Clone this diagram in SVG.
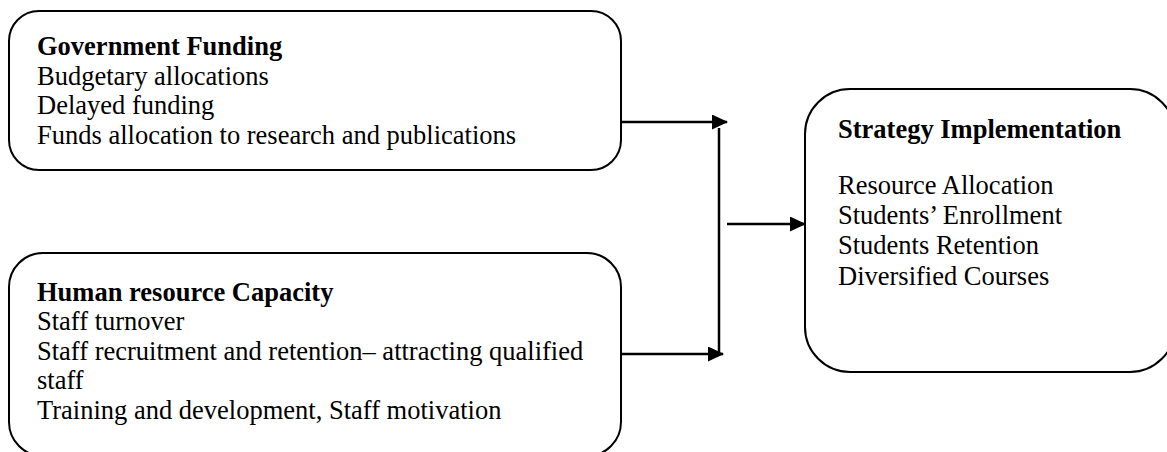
<svg xmlns="http://www.w3.org/2000/svg" width="1167" height="452" viewBox="0 0 1167 452">
<defs>
<style>
.box{fill:#fff;stroke:#000;stroke-width:2}
.t{font-family:"Liberation Serif","Times New Roman",serif;font-size:26.5px;fill:#000}
.b{font-weight:bold}
.ln{stroke:#000;stroke-width:2.5;fill:none}
</style>
<marker id="ah" markerWidth="16" markerHeight="15" refX="15" refY="7.5" orient="auto" markerUnits="userSpaceOnUse">
<path d="M0,0 L16,7.5 L0,15 Z" fill="#000"/>
</marker>
</defs>
<rect width="1167" height="452" fill="#fff"/>
<g id="gov">
<rect class="box" x="9" y="11" width="612" height="159" rx="30" ry="30"/>
<text class="t b" x="37" y="55">Government Funding</text>
<text class="t" x="37" y="85">Budgetary allocations</text>
<text class="t" x="37" y="114">Delayed funding</text>
<text class="t" x="37" y="144">Funds allocation to research and publications</text>
</g>
<g id="hr">
<rect class="box" x="9" y="253" width="612" height="203" rx="34" ry="34"/>
<text class="t b" x="37" y="301">Human resource Capacity</text>
<text class="t" x="37" y="330">Staff turnover</text>
<text class="t" x="37" y="360">Staff recruitment and retention– attracting qualified</text>
<text class="t" x="37" y="389">staff</text>
<text class="t" x="37" y="419">Training and development, Staff motivation</text>
</g>
<g id="strategy">
<rect class="box" x="805" y="89" width="370" height="283" rx="45" ry="45"/>
<text class="t b" x="838" y="138">Strategy Implementation</text>
<text class="t" x="838" y="194">Resource Allocation</text>
<text class="t" x="838" y="224">Students’ Enrollment</text>
<text class="t" x="838" y="254">Students Retention</text>
<text class="t" x="838" y="285">Diversified Courses</text>
</g>
<g id="connectors">
<line class="ln" x1="621" y1="122" x2="727" y2="122" marker-end="url(#ah)"/>
<line class="ln" x1="621" y1="354" x2="723" y2="354" marker-end="url(#ah)"/>
<line class="ln" x1="719" y1="128" x2="719" y2="354"/>
<line class="ln" x1="727" y1="224" x2="805" y2="224" marker-end="url(#ah)"/>
</g>
</svg>
